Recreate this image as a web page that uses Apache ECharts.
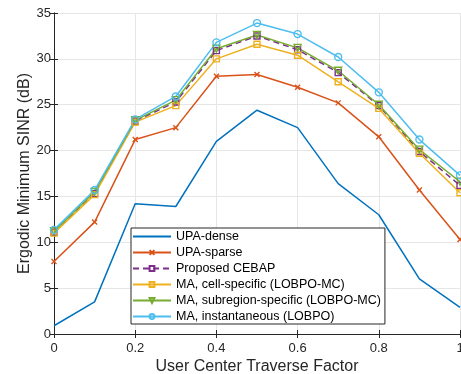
<!DOCTYPE html>
<html>
<head>
<meta charset="utf-8">
<script src="https://cdn.jsdelivr.net/npm/echarts@6/dist/echarts.min.js"></script>
<style>
  html, body { margin: 0; padding: 0; background: #fff; }
  #chart { width: 461px; height: 374px; }
</style>
</head>
<body>
<div id="chart"></div>
<script>
// x values: user center traverse factor
const xs = [0, 0.1, 0.2, 0.3, 0.4, 0.5, 0.6, 0.7, 0.8, 0.9, 1];

// values (dB)
const upaDense     = [0.9, 3.5, 14.2, 13.9, 21.0, 24.4, 22.5, 16.4, 13.0, 6.0, 2.9];
const upaSparse    = [7.9, 12.2, 21.2, 22.5, 28.1, 28.3, 26.9, 25.2, 21.5, 15.7, 10.3];
const cebap        = [11.1, 15.3, 23.2, 25.3, 30.9, 32.5, 31.0, 28.5, 24.9, 19.9, 16.2];
const cellSpecific = [11.0, 15.2, 23.1, 24.9, 30.0, 31.6, 30.4, 27.5, 24.6, 19.7, 15.4];
const subregion    = [11.2, 15.5, 23.3, 25.5, 31.1, 32.6, 31.2, 28.7, 25.0, 20.1, 16.6];
const instant      = [11.35, 15.7, 23.4, 25.9, 31.8, 33.9, 32.7, 30.2, 26.35, 21.2, 17.3];

const names = [
  'UPA-dense',
  'UPA-sparse',
  'Proposed CEBAP',
  'MA, cell-specific (LOBPO-MC)',
  'MA, subregion-specific (LOBPO-MC)',
  'MA, instantaneous (LOBPO)'
];

const txt = '#262626';
const font = '"Liberation Sans", Arial, Helvetica, sans-serif';

const pairs = (ys) => xs.map((x, i) => [x, ys[i]]);

// matlab-ish line with open markers
function mk(name, ys, color, symbol, opts) {
  opts = opts || {};
  return {
    name: name,
    type: 'line',
    data: pairs(ys),
    symbol: symbol,
    symbolSize: opts.size || 7,
    showSymbol: !opts.noMarker,
    lineStyle: { color: color, width: 1.5, type: opts.dash || 'solid' },
    itemStyle: {
      color: 'rgba(0,0,0,0)',
      borderColor: opts.noMarker ? 'rgba(0,0,0,0)' : color,
      borderWidth: opts.noMarker ? 0 : 1.4
    },
    emphasis: { disabled: true },
    animation: false
  };
}

const cross = 'path://M0,0L10,10M10,0L0,10';
const triDown = 'path://M0,0L10,0L5,9Z';

const option = {
  animation: false,
  textStyle: { fontFamily: font },
  grid: { left: 54, right: 1, top: 13, bottom: 40, outerBoundsMode: 'none', containLabel: false },
  legend: {
    orient: 'vertical',
    left: 131,
    top: 228,
    padding: [2, 4, 1, 1],
    itemWidth: 38,
    itemHeight: 6,
    itemGap: 3,
    backgroundColor: '#fff',
    borderColor: txt,
    borderWidth: 1,
    borderRadius: 0,
    textStyle: { color: '#000', fontSize: 12.5, fontFamily: font },
    data: names
  },
  xAxis: [{
    type: 'value',
    min: 0, max: 1, interval: 0.2,
    name: 'User Center Traverse Factor',
    nameLocation: 'middle',
    nameGap: 25,
    nameMoveOverlap: false,
    nameTextStyle: { color: txt, fontSize: 16, fontFamily: font },
    axisLine: { lineStyle: { color: txt, width: 1 } },
    axisTick: { inside: true, length: 4, lineStyle: { color: txt } },
    axisLabel: { color: txt, fontSize: 13, margin: 8, fontFamily: font },
    splitLine: { show: true, lineStyle: { color: '#e6e6e6', width: 1 } }
  }, {
    type: 'value',
    position: 'top',
    min: 0, max: 1, interval: 0.2,
    axisLine: { show: true, lineStyle: { color: txt, width: 1 } },
    axisTick: { show: true, inside: true, length: 4, lineStyle: { color: txt } },
    axisLabel: { show: false },
    splitLine: { show: false }
  }],
  yAxis: [{
    type: 'value',
    min: 0, max: 35, interval: 5,
    name: 'Ergodic Minimum SINR (dB)',
    nameLocation: 'middle',
    nameGap: 21,
    nameMoveOverlap: false,
    nameTextStyle: { color: txt, fontSize: 16, fontFamily: font },
    axisLine: { show: true, lineStyle: { color: txt, width: 1 } },
    axisTick: { show: true, inside: true, length: 4, lineStyle: { color: txt } },
    axisLabel: { color: txt, fontSize: 13, margin: 3, fontFamily: font },
    splitLine: { show: true, lineStyle: { color: '#e6e6e6', width: 1 } }
  }, {
    type: 'value',
    position: 'right',
    min: 0, max: 35, interval: 5,
    axisLine: { show: true, lineStyle: { color: txt, width: 1 } },
    axisTick: { show: true, inside: true, length: 4, lineStyle: { color: txt } },
    axisLabel: { show: false },
    splitLine: { show: false }
  }],
  series: [
    mk(names[0], upaDense, '#0072BD', 'circle', { noMarker: true }),
    mk(names[1], upaSparse, '#D95319', cross, { size: 5 }),
    mk(names[2], cebap, '#7E2F8E', 'rect', { dash: [6, 4], size: 6 }),
    mk(names[3], cellSpecific, '#EDB120', 'rect', { size: 6 }),
    mk(names[4], subregion, '#77AC30', triDown, { size: 7 }),
    mk(names[5], instant, '#4DBEEE', 'circle', { size: 7 })
  ]
};

const chart = echarts.init(document.getElementById('chart'), null, { renderer: 'canvas' });
chart.setOption(option);
</script>
</body>
</html>
